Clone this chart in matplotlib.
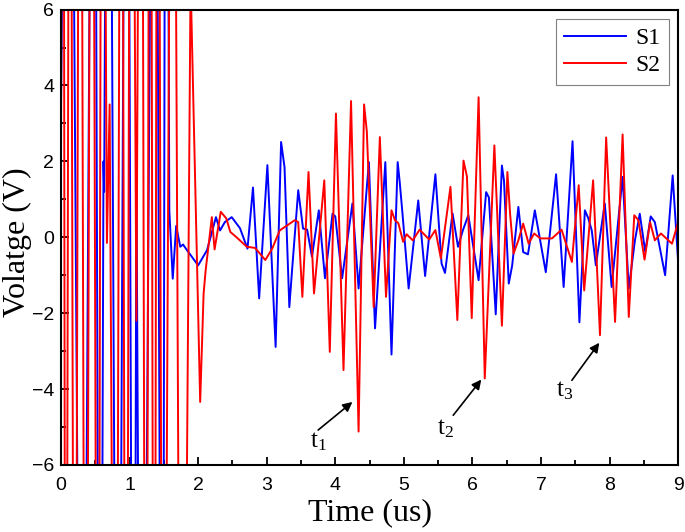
import matplotlib
matplotlib.use("Agg")
import matplotlib.pyplot as plt
from matplotlib.ticker import MultipleLocator

plt.rcParams["mathtext.fontset"] = "custom"
plt.rcParams["mathtext.rm"] = "Liberation Serif"
plt.rcParams["mathtext.it"] = "Liberation Serif"

# Time (us) / Voltage (V) turning points
s1_time = [0.00, 0.12, 0.31, 0.48, 0.57, 0.62, 0.63, 0.69, 0.83, 0.96, 1.06, 1.10, 1.18, 1.37, 1.48, 1.53,
           1.58, 1.63, 1.68, 1.74, 1.78, 1.83, 2.00, 2.13, 2.26, 2.32, 2.39, 2.49, 2.61, 2.72, 2.80, 2.89,
           3.01, 3.13, 3.21, 3.26, 3.33, 3.37, 3.46, 3.53, 3.59, 3.66, 3.76, 3.85, 3.96, 4.00, 4.10, 4.25,
           4.34, 4.49, 4.58, 4.73, 4.82, 4.91, 4.94, 4.98, 5.07, 5.21, 5.31, 5.46, 5.55, 5.60, 5.71, 5.79,
           5.86, 5.94, 6.09, 6.20, 6.24, 6.34, 6.43, 6.46, 6.53, 6.58, 6.67, 6.74, 6.81, 6.91, 7.07, 7.22,
           7.33, 7.46, 7.56, 7.64, 7.69, 7.74, 7.80, 7.93, 8.03, 8.19, 8.28, 8.37, 8.44, 8.52, 8.60, 8.66,
           8.81, 8.92, 9.00]
s1_volt = [3.4, 25, -25, 25, -25, 2.0, 1.2, 25, -25, 25, -25, 1.7, -25, 25, -25, 25,
           0.7, -1.09, 0.3, -0.25, -0.19, -0.32, -0.74, -0.34, 0.53, 0.18, 0.40, 0.53, 0.24, -0.30, 1.31, -1.61,
           1.90, -2.89, 2.51, 1.85, -1.84, -0.87, 1.24, 0.23, 0.20, -0.51, 0.71, -1.08, 0.62, 0.55, -1.08, 0.89,
           -1.35, 1.98, -2.40, 1.98, -3.09, 1.98, 1.45, 0.63, -1.35, 0.97, -1.02, 1.66, -0.69, -0.94, 0.63, -0.25,
           0.18, 0.58, -1.13, 1.19, 1.05, -2.03, 1.89, 1.50, -1.22, -0.74, 0.80, -0.39, -0.45, 0.71, -0.92, 1.66,
           -1.31, 2.53, -2.24, 0.71, 0.50, 0.18, -0.74, 0.89, -1.31, 1.59, -1.35, -0.08, 0.62, -0.38, 0.55, 0.40,
           -1.00, 1.63, -0.65]

s2_time = [0.00, 0.03, 0.07, 0.13, 0.20, 0.28, 0.36, 0.45, 0.54, 0.60, 0.67, 0.71, 0.80, 0.88, 0.95, 1.02,
           1.10, 1.17, 1.24, 1.30, 1.36, 1.41, 1.49, 1.63, 1.76, 1.89, 2.03, 2.08, 2.11, 2.20, 2.24, 2.33,
           2.41, 2.47, 2.56, 2.71, 2.83, 2.98, 3.08, 3.19, 3.41, 3.46, 3.52, 3.61, 3.69, 3.84, 3.92, 4.01,
           4.12, 4.23, 4.34, 4.42, 4.46, 4.56, 4.65, 4.74, 4.82, 4.87, 4.92, 4.99, 5.04, 5.13, 5.23, 5.37,
           5.46, 5.54, 5.68, 5.78, 5.87, 5.92, 5.99, 6.09, 6.18, 6.32, 6.43, 6.51, 6.55, 6.60, 6.67, 6.74,
           6.82, 6.90, 6.99, 7.16, 7.30, 7.45, 7.55, 7.63, 7.76, 7.86, 7.95, 8.08, 8.19, 8.28, 8.36, 8.42,
           8.51, 8.59, 8.66, 8.75, 8.91, 9.00]
s2_volt = [1.5, 25, -25, 25, -25, 25, -25, 25, -25, 25, -0.15, 3.5, -25, 25, -25, 25,
           -2.2, 25, -25, 25, -25, 25, -25, 25, -25, 6.8, -4.34, -1.48, -0.87, 0.53, -0.32, 0.67,
           0.50, 0.14, 0.00, -0.25, -0.28, -0.60, -0.30, 0.18, 0.45, 0.40, -1.57, 1.72, -1.48, 1.50, -3.02, 3.26,
           -3.50, 3.59, -5.12, 3.50, 2.79, -1.84, 2.64, -1.57, 0.71, 0.45, 0.37, -0.12, 0.08, -0.08, 0.20, -0.06,
           0.19, -0.56, 1.33, -2.18, 2.02, 1.60, -2.13, 3.69, -3.72, 2.42, -2.33, 1.72, 0.60, -0.43, -0.08, 0.36,
           -0.17, 0.10, -0.03, -0.03, 0.20, -0.65, 1.37, -1.40, 1.50, -2.58, 2.63, -2.23, 2.71, -2.10, 0.58, 0.45,
           -0.59, 0.40, -0.08, 0.10, -0.17, 0.40]

labels = ["t$_\\mathrm{1}$", "t$_\\mathrm{2}$", "t$_\\mathrm{3}$"]
arrow_tips = [(4.25, -4.34), (6.13, -3.75), (7.85, -2.78)]
arrow_tails = [(3.75, -5.08), (5.72, -4.69), (7.45, -3.77)]
label_pos = [(3.75, -5.40), (5.60, -5.05), (7.35, -4.05)]

serif = ["Liberation Serif", "DejaVu Serif"]
sans = ["Liberation Sans", "DejaVu Sans"]

fig = plt.figure(figsize=(6.85, 5.32), dpi=100)
ax = fig.add_axes([0.089, 0.126, 0.901, 0.856])

ax.plot(s1_time, s1_volt, color="#0000ff", lw=1.4, label="S1", solid_joinstyle="round")
ax.plot(s2_time, s2_volt, color="#ff0000", lw=1.4, label="S2", solid_joinstyle="round")

for lab, tip, tail, pos in zip(labels, arrow_tips, arrow_tails, label_pos):
    ax.annotate("", xy=tip, xytext=tail,
                arrowprops=dict(arrowstyle="-|>", color="black", lw=1.2,
                                mutation_scale=14, shrinkA=0, shrinkB=0))
    ax.text(pos[0], pos[1], lab, family=serif, fontsize=18, ha="center", va="center")

ax.set_xlim(0, 9)
ax.set_ylim(-6, 6)
ax.xaxis.set_major_locator(MultipleLocator(1))
ax.xaxis.set_minor_locator(MultipleLocator(0.5))
ax.yaxis.set_major_locator(MultipleLocator(2))
ax.yaxis.set_minor_locator(MultipleLocator(1))
ax.tick_params(which="both", direction="in", top=False, right=False, width=1.3)
ax.tick_params(which="major", length=6, labelsize=14)
ax.tick_params(axis="x", which="major", pad=9)
ax.tick_params(axis="y", which="major", pad=5)
ax.tick_params(which="minor", length=3.5)
for lab in ax.get_xticklabels() + ax.get_yticklabels():
    lab.set_family(sans)
for sp in ax.spines.values():
    sp.set_linewidth(1.5)

ax.set_xlabel("Time (us)", family=serif, fontsize=23, labelpad=3)
ax.set_ylabel("Volatge (V)", family=serif, fontsize=23, va="center")
ax.yaxis.set_label_coords(-0.071, 0.49)

leg = ax.legend(loc="upper right", prop={"family": serif, "size": 17}, fancybox=False,
                edgecolor="gray", framealpha=1, handlelength=2.6, borderaxespad=0.4,
                handletextpad=0.4, labelspacing=0.25, borderpad=0.35)
leg.get_frame().set_linewidth(0.8)

fig.savefig("out.png", dpi=100)
